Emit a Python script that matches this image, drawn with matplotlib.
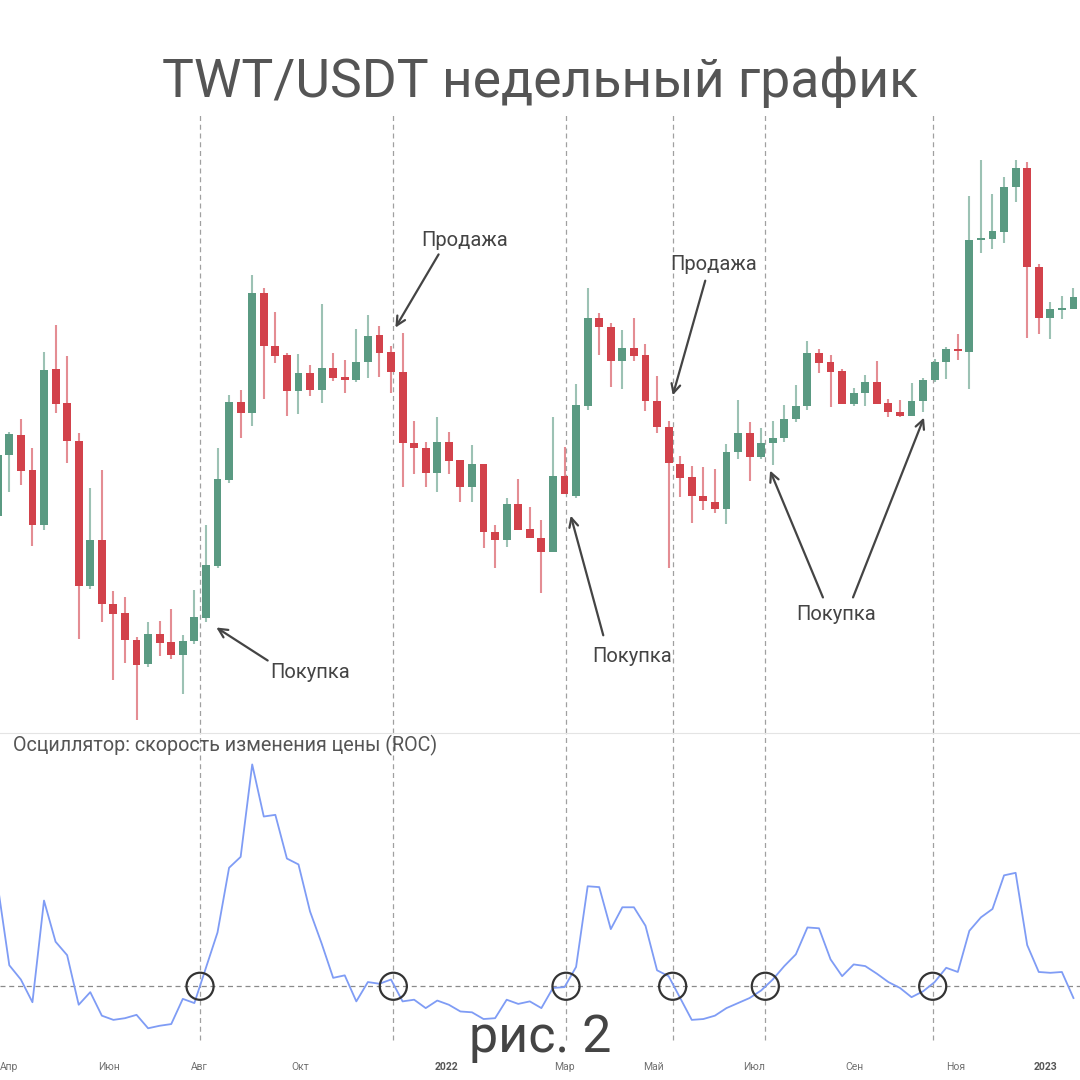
import matplotlib
matplotlib.use('Agg')
import matplotlib.pyplot as plt
import numpy as np

# TWT/USDT weekly candles (USDT), Apr 2021 - Jan 2023
opens = [0.712, 0.897, 0.967, 0.848, 0.689, 1.240, 1.091, 0.946, 0.547, 0.651,
         0.511, 0.494, 0.446, 0.408, 0.456, 0.443, 0.422, 0.445, 0.485, 0.590,
         0.816, 1.095, 1.051, 1.653, 1.353, 1.308, 1.142, 1.222, 1.146, 1.245,
         1.203, 1.190, 1.274, 1.410, 1.323, 1.227, 0.938, 0.920, 0.838, 0.942,
         0.880, 0.795, 0.867, 0.671, 0.651, 0.745, 0.678, 0.655, 0.622, 0.828,
         0.768, 1.079, 1.503, 1.453, 1.279, 1.342, 1.308, 1.100, 0.996, 0.867,
         0.825, 0.768, 0.751, 0.731, 0.907, 0.974, 0.890, 0.938, 0.956, 1.027,
         1.079, 1.318, 1.274, 1.231, 1.087, 1.133, 1.181, 1.091, 1.055, 1.039,
         1.100, 1.190, 1.274, 1.337, 1.323, 2.018, 2.026, 2.080, 2.465, 2.648,
         1.823, 1.503, 1.550, 1.556]
highs = [0.914, 0.978, 1.027, 0.920, 1.323, 1.464, 1.303, 0.974, 0.791, 0.848,
         0.537, 0.525, 0.451, 0.478, 0.480, 0.501, 0.455, 0.539, 0.689, 0.920,
         1.124, 1.146, 1.768, 1.683, 1.538, 1.318, 1.313, 1.259, 1.585, 1.318,
         1.284, 1.443, 1.521, 1.459, 1.353, 1.421, 1.020, 0.942, 1.035, 0.978,
         0.880, 0.931, 0.867, 0.689, 0.762, 0.819, 0.737, 0.702, 1.035, 0.924,
         1.172, 1.683, 1.532, 1.476, 1.437, 1.503, 1.363, 1.208, 1.020, 0.893,
         0.860, 0.857, 0.850, 0.935, 1.104, 1.016, 0.993, 1.020, 1.083, 1.168,
         1.379, 1.337, 1.308, 1.240, 1.154, 1.213, 1.279, 1.107, 1.104, 1.177,
         1.199, 1.288, 1.348, 1.416, 2.383, 2.730, 2.401, 2.559, 2.730, 2.709,
         1.844, 1.597, 1.634, 1.683]
lows = [0.702, 0.780, 0.801, 0.636, 0.676, 1.051, 0.870, 0.448, 0.541, 0.478,
        0.384, 0.409, 0.330, 0.403, 0.420, 0.415, 0.364, 0.440, 0.478, 0.585,
        0.807, 0.956, 1.000, 1.107, 1.269, 1.039, 1.047, 1.120, 1.091, 1.186,
        1.133, 1.181, 1.199, 1.203, 1.133, 0.795, 0.835, 0.795, 0.780, 0.835,
        0.751, 0.751, 0.631, 0.585, 0.634, 0.676, 0.655, 0.533, 0.622, 0.774,
        0.762, 1.063, 1.308, 1.159, 1.150, 1.279, 1.059, 0.974, 0.585, 0.765,
        0.694, 0.729, 0.721, 0.691, 0.883, 0.813, 0.883, 0.863, 0.942, 1.016,
        1.063, 1.222, 1.075, 1.087, 1.079, 1.079, 1.087, 1.035, 1.035, 1.039,
        1.055, 1.181, 1.194, 1.284, 1.150, 1.922, 1.951, 1.996, 2.330, 1.395,
        1.416, 1.389, 1.498, 1.556]
closes = [0.897, 0.971, 0.844, 0.689, 1.236, 1.087, 0.946, 0.547, 0.651, 0.511,
          0.492, 0.446, 0.406, 0.456, 0.441, 0.422, 0.445, 0.487, 0.592, 0.819,
          1.095, 1.051, 1.653, 1.353, 1.303, 1.142, 1.222, 1.146, 1.245, 1.199,
          1.190, 1.274, 1.405, 1.318, 1.227, 0.938, 0.920, 0.838, 0.942, 0.877,
          0.795, 0.867, 0.671, 0.651, 0.745, 0.676, 0.655, 0.622, 0.828, 0.774,
          1.083, 1.503, 1.453, 1.279, 1.342, 1.303, 1.100, 0.996, 0.870, 0.822,
          0.768, 0.754, 0.731, 0.907, 0.974, 0.890, 0.938, 0.956, 1.027, 1.079,
          1.318, 1.269, 1.227, 1.087, 1.133, 1.181, 1.087, 1.055, 1.039, 1.100,
          1.190, 1.274, 1.337, 1.328, 2.018, 2.034, 2.088, 2.465, 2.648, 1.823,
          1.503, 1.556, 1.562, 1.627]

# rate of change oscillator, %
roc = [120, 25, 8, -19, 102, 53, 37, -22, -7, -35,
       -40, -38, -34, -50, -47, -45, -15, -20, 22, 64,
       141, 154, 264, 202, 204, 152, 145, 89, 51, 10,
       13, -18, 5, 3, 8, -18, -16, -26, -17, -22,
       -30, -31, -39, -38, -16, -21, -18, -26, -2, -1,
       23, 119, 118, 68, 94, 94, 72, 19, 12, -14,
       -40, -39, -35, -26, -20, -14, -5, 8, 24, 38,
       70, 69, 32, 12, 26, 24, 15, 5, -2, -13,
       -6, 5, 22, 17, 66, 82, 92, 132, 135, 49,
       17, 16, 17, -14]

month_labels = ['Апр', 'Июн', 'Авг', 'Окт', '2022', 'Мар', 'Май', 'Июл', 'Сен', 'Ноя', '2023']
month_pos = [0.97, 9.62, 17.4, 26.13, 38.75, 48.96, 56.65, 65.38, 74.1, 82.85, 90.54]
signal_pos = [17.49, 34.2, 49.13, 58.35, 66.36, 80.83]

notes = ['Покупка', 'Продажа', 'Покупка', 'Продажа', 'Покупка']
note_xy = [(310, 673), (465, 240), (632, 657), (714, 264), (836, 614)]
arrows = [((270, 662), (214, 626)), ((440, 252), (394, 330)), ((604, 638), (570, 513)),
          ((706, 278), (672, 398)), ((824, 600), (769, 468)), ((852, 600), (925, 415))]

W = 1080.0
def fp(px, py):
    # top-left pixel -> figure fraction
    return (px / W, 1 - py / W)

green = '#5a9a82'
red = '#d2424b'
plt.rcParams['font.family'] = ['Roboto', 'DejaVu Sans']

fig = plt.figure(figsize=(10.8, 10.8), dpi=100)
ax = fig.add_axes([0, 1 - 733 / W, 1, 620 / W])
ax2 = fig.add_axes([0, 1 - 1045 / W, 1, 312 / W])

o = np.array(opens); h = np.array(highs); l = np.array(lows); c = np.array(closes)
x = np.arange(len(o))
cols = np.where(c >= o, green, red)

ax.vlines(x, l, h, colors=cols, lw=1.5, alpha=0.6, zorder=2)
ax.bar(x, np.abs(c - o), bottom=np.minimum(o, c), width=0.68, color=cols, zorder=3)
ax.set_yscale('log')
ax.set_ylim(0.3142, 3.259)
ax.set_xlim(0.196, 93.565)
ax.axis('off')
for p in signal_pos:
    ax.axvline(p, color='#a0a0a0', lw=0.9, ls=(0, (4, 3)), zorder=1)

# oscillator pane
ax2.plot(x, roc, color='#7f9cf5', lw=1.3, zorder=3)
ax2.axhline(0, color='#8a8a8a', lw=0.9, ls=(0, (4, 3)), zorder=1)
for p in signal_pos:
    ax2.axvline(p, ymin=0.016, color='#a0a0a0', lw=0.9, ls=(0, (4, 3)), zorder=1)
ax2.scatter(signal_pos, np.zeros(len(signal_pos)), s=380, facecolors='none',
            edgecolors='#333333', linewidths=1.6, zorder=5)
ax2.set_xlim(0.196, 93.565)
ax2.set_ylim(-69.9, 301.4)
for s in ['left', 'right', 'bottom']:
    ax2.spines[s].set_visible(False)
ax2.spines['top'].set_color('#e4e4e4')
ax2.set_yticks([])
ax2.set_xticks(month_pos)
ax2.set_xticklabels(month_labels)
ax2.tick_params(axis='x', length=0, pad=12, labelsize=7.5, labelcolor='#707070')
for t in ax2.get_xticklabels():
    if t.get_text().startswith('20'):
        t.set_fontweight('bold')
        t.set_color('#555555')

fig.text(13 / W, 1 - 745 / W, 'Осциллятор: скорость изменения цены (ROC)',
         ha='left', va='center', fontsize=14.2, color='#555555')

fig.text(0.5, 1 - 97 / W, 'TWT/USDT недельный график', ha='center', va='baseline',
         fontsize=38.5, color='#555555')
fig.text(540 / W, 1 - 1052 / W, 'рис. 2', ha='center', va='baseline',
         fontsize=37.5, color='#444444')

for txt, (tx, ty) in zip(notes, note_xy):
    fig.text(*fp(tx, ty), txt, ha='center', va='center', fontsize=14.5, color='#444444')
for start, end in arrows:
    ax.annotate('', xy=fp(*end), xytext=fp(*start), xycoords='figure fraction',
                textcoords='figure fraction',
                arrowprops=dict(arrowstyle='->', color='#444444', lw=1.6, mutation_scale=16))

fig.savefig('out.png', dpi=100)
